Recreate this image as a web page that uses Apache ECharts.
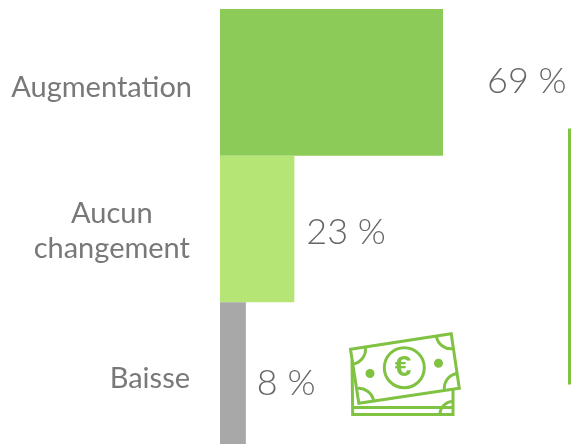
<!DOCTYPE html>
<html><head><meta charset="utf-8">
<style>html,body{margin:0;padding:0;background:#fff}#c{width:571px;height:444px}</style>
<script src="https://cdn.jsdelivr.net/npm/echarts@6/dist/echarts.min.js"></script>
</head><body><div id="c"></div>
<script>
const categories = ['Augmentation', 'Aucun\nchangement', 'Baisse'];
const values = [69, 23, 8];
const barColors = ['#8DCB58', '#B5E675', '#A8A8A8'];
const labelStyles = [
  {distance: 44, offset: [0, -1], fontSize: 36},
  {distance: 12, offset: [0, 3], fontSize: 36},
  {distance: 11, offset: [0, 8], fontSize: 36}
];
const axisLabelPads = [[10, 0, 0, 0], [4, 2, 0, 0], [6, 2, 0, 0]];
const FONT = 'Lato';
const TEXT = '#787878';
const ICON = '#80C242';
const rad = d => d * Math.PI / 180;
const stroke = {stroke: ICON, lineWidth: 3, fill: null};
const arc = (cx, cy, r, a, b) => ({type: 'arc', shape: {cx, cy, r, startAngle: rad(a), endAngle: rad(b), clockwise: true}, style: stroke, silent: true});
const line = pts => ({type: 'polyline', shape: {points: pts}, style: stroke, silent: true});
const dot = (cx, cy, r) => ({type: 'circle', shape: {cx, cy, r}, style: {fill: ICON}, silent: true});
const chart = echarts.init(document.getElementById('c'), null, {renderer: 'canvas'});
chart.setOption({
  animation: false,
  backgroundColor: '#fff',
  grid: {left: 220, top: 9, width: 323.2, height: 440, containLabel: false, outerBoundsMode: 'none'},
  xAxis: {type: 'value', min: 0, max: 100, show: false},
  yAxis: {
    type: 'category', inverse: true,
    data: categories.map((c, i) => ({value: c, textStyle: {padding: axisLabelPads[i]}})),
    axisLine: {show: false}, axisTick: {show: false},
    axisLabel: {
      margin: 28,
      formatter: v => v.split('\n').map(s => '{a|' + s + '}').join('\n'),
      rich: {a: {fontFamily: FONT, fontSize: 29, color: TEXT, align: 'center', lineHeight: 35}}
    }
  },
  series: [{
    type: 'bar', barWidth: '100%', silent: true,
    data: values.map((v, i) => ({
      value: v,
      itemStyle: {color: barColors[i]},
      label: {
        show: true, position: 'right', formatter: '{c} %',
        fontFamily: FONT, fontWeight: 300, color: '#666',
        distance: labelStyles[i].distance, offset: labelStyles[i].offset, fontSize: labelStyles[i].fontSize
      }
    }))
  }],
  graphic: {elements: [
    line([[571, 130], [569.5, 130], [569.5, 383], [571, 383]]),
    {type: 'polygon', shape: {points: [[350.5, 349.3], [451.2, 333.8], [459.3, 388.3], [358.8, 403.3]]}, style: {stroke: ICON, lineWidth: 3, fill: null}, silent: true},
    line([[352, 360], [352.7, 414.5], [453, 414.5], [453, 390]]),
    line([[354, 407.5], [452, 407.5]]),
    {type: 'circle', shape: {cx: 404.3, cy: 367.7, r: 20}, style: stroke, silent: true},
    dot(370, 373.5, 4.5), dot(438.5, 363.3, 4.5),
    arc(350.5, 349.3, 15, -9, 81),
    arc(451.2, 333.8, 15, 81, 171),
    arc(459.3, 388.3, 15, 171, 261),
    arc(358.8, 403.3, 15, 261, 351),
    arc(453, 414.5, 13, 180, 270),
    {type: 'text', style: {x: 403, y: 368, text: '€', fontFamily: 'Liberation Sans', fontWeight: 'bold', fontSize: 30, fill: ICON, align: 'center', verticalAlign: 'middle'}, silent: true}
  ]}
});
</script></body></html>
